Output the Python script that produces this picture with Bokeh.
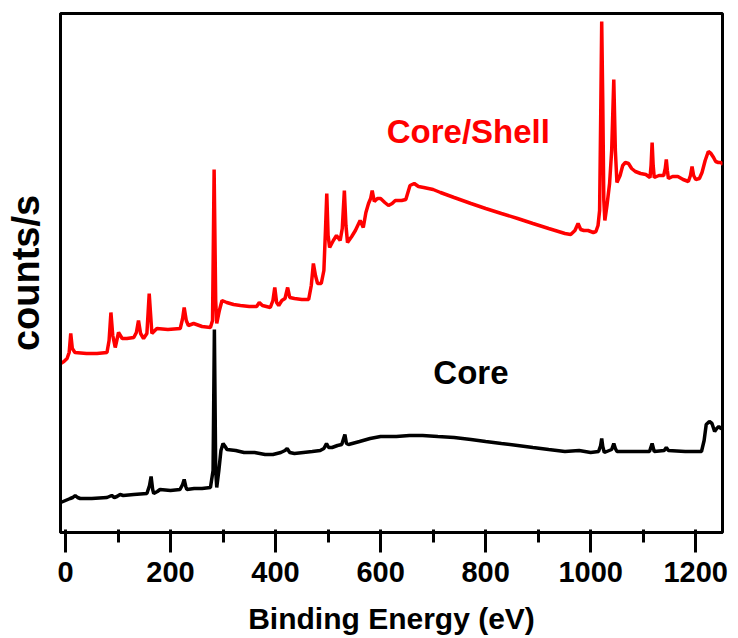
from bokeh.plotting import figure
from bokeh.models import Range1d, FixedTicker, Label
from bokeh.embed import file_html
from bokeh.resources import INLINE

# Binding energy (eV) and intensity (arbitrary counts/s)
shell_ev = [-9, -3, 3, 7, 10, 13, 18, 40, 60, 79, 83, 86.5, 90, 94.7, 101, 108, 117, 130, 135, 139,
            143, 148.6, 155, 159.4, 164.5, 174, 195, 218.5, 223, 226, 230, 234, 244, 260, 276, 280,
            283, 286, 288, 293, 298, 307, 320, 333, 350, 364, 369, 375, 390, 395, 398.5, 402, 406,
            412, 418, 423, 427, 436, 450, 463, 468, 472, 476, 480, 487, 492, 495, 497.5, 500, 503,
            510, 516, 523, 527, 531, 534, 537, 545, 552, 561, 567, 572, 577, 581, 584, 588, 594,
            600, 608, 615, 622, 628, 640, 648, 652, 656, 664, 672, 682, 700, 714, 740, 772, 800,
            830, 861, 890, 920, 951, 962, 970, 976, 981, 987, 995, 1005, 1010, 1014, 1017, 1019,
            1021, 1023, 1025, 1027, 1031, 1036, 1040, 1044, 1047, 1050, 1056, 1061, 1066, 1072,
            1078, 1085, 1095, 1105, 1113, 1115, 1117, 1119, 1121, 1130, 1139, 1142, 1144, 1146,
            1148, 1156, 1166, 1176, 1186, 1190, 1193, 1196, 1200, 1207, 1212, 1218, 1224, 1229,
            1234, 1238, 1243, 1248, 1252]
shell_cps = [169, 171, 174, 180, 199, 184, 180, 179, 179, 180, 192, 220, 197, 185, 200, 194, 194, 195,
             200, 212, 199, 194, 199, 239, 199, 204, 203, 204, 214, 225, 212, 207, 209, 206, 205, 212,
             363, 232, 209, 222, 232, 230, 228, 227, 226, 226, 230, 227, 225, 232, 245, 230, 227, 232,
             234, 245, 235, 234, 233, 233, 247, 269, 257, 249, 249, 262, 302, 339, 297, 285, 292, 297,
             292, 304, 342, 307, 290, 296, 302, 312, 305, 320, 329, 334, 342, 331, 334, 334, 330, 327,
             329, 332, 332, 333, 340, 347, 349, 346, 345, 343, 340, 335, 329, 324, 319, 314, 309, 304,
             299, 298, 302, 309, 303, 302, 302, 300, 301, 307, 322, 412, 511, 432, 332, 312, 327, 349,
             382, 453, 382, 350, 357, 367, 370, 369, 364, 361, 359, 358, 355, 367, 390, 367, 355, 357,
             357, 364, 373, 362, 354, 356, 356, 353, 351, 357, 366, 357, 353, 354, 360, 372, 381, 379,
             375, 371, 370, 370, 368]

core_ev = [-9, 0, 9, 14, 18.5, 23, 28, 50, 79, 88, 93, 98, 104, 110, 130, 155, 160, 163, 166, 168,
           175, 180, 200, 218, 223, 226, 229, 231, 245, 260, 276, 281, 283.5, 286, 288, 292, 296,
           300, 304, 307.5, 324, 340, 360, 380, 395, 410, 418, 422, 427, 436, 453, 470, 485, 492,
           497, 501, 507.6, 518, 526, 532, 535, 539, 560, 580, 600, 630, 655, 680, 709, 740, 772,
           800, 830, 861, 890, 920, 951, 978, 1000, 1015, 1019, 1021, 1023, 1026, 1040, 1044, 1047,
           1050, 1080, 1112, 1117, 1121, 1140, 1144, 1148, 1180, 1211, 1216, 1220, 1226, 1231, 1236,
           1240, 1244, 1248, 1252]
core_cps = [30, 32, 34, 35, 37, 35, 34, 34, 35, 37, 35, 36, 38, 37, 38, 39, 47, 56, 43, 39, 41, 43, 42,
            43, 48, 53, 46, 43, 44, 44, 45, 62, 203, 62, 45, 62, 82, 89, 86, 83, 82, 80, 80, 78, 78,
            80, 82, 84, 80, 79, 80, 81, 82, 84, 89, 85, 85, 87, 88, 98, 89, 88, 91, 94, 96, 96, 97,
            97, 96, 95, 93, 91, 89, 87, 85, 83, 81, 82, 80, 81, 87, 94, 86, 80, 83, 89, 84, 81, 81,
            81, 89, 81, 82, 85, 82, 81, 81, 92, 108, 111, 109, 101, 104, 106, 104, 104]

x_major_ticks = [0, 200, 400, 600, 800, 1000, 1200]
x_minor_ticks = [100, 300, 500, 700, 900, 1100]

FONT = "Liberation Sans"

p = figure(width=730, height=638, output_backend="svg", toolbar_location=None,
           x_range=Range1d(-9.5, 1251), y_range=Range1d(0, 519),
           min_border_left=60, min_border_right=8, min_border_top=13, min_border_bottom=106)

p.line(shell_ev, shell_cps, line_color="#ff0000", line_width=3.5)
p.line(core_ev, core_cps, line_color="#000000", line_width=3.5)

p.add_layout(Label(x=767, y=401, text="Core/Shell", text_color="#ff0000", text_font=FONT,
                   text_font_style="bold", text_font_size="33px", text_align="center",
                   text_baseline="alphabetic"))
p.add_layout(Label(x=772, y=160, text="Core", text_color="#000000", text_font=FONT,
                   text_font_style="bold", text_font_size="33px", text_align="center",
                   text_baseline="alphabetic"))

p.xgrid.visible = False
p.ygrid.visible = False
p.outline_line_color = "black"
p.outline_line_width = 3

xa = p.xaxis[0]
xa.ticker = FixedTicker(ticks=x_major_ticks, minor_ticks=x_minor_ticks)
xa.axis_line_width = 3
xa.major_tick_out = 20
xa.major_tick_in = 3
xa.minor_tick_out = 10
xa.minor_tick_in = 3
xa.major_tick_line_width = 3
xa.minor_tick_line_width = 3
xa.major_tick_line_color = "#000000"
xa.minor_tick_line_color = "#000000"
xa.major_label_text_font = FONT
xa.major_label_text_font_style = "bold"
xa.major_label_text_font_size = "29px"
xa.major_label_text_color = "#000000"
xa.major_label_standoff = 9
xa.axis_label = "Binding Energy (eV)"
xa.axis_label_text_font = FONT
xa.axis_label_text_font_style = "bold"
xa.axis_label_text_font_size = "30px"
xa.axis_label_text_color = "#000000"
xa.axis_label_standoff = 17

ya = p.yaxis[0]
ya.axis_line_width = 3
ya.major_tick_line_color = None
ya.minor_tick_line_color = None
ya.major_label_text_font_size = "1px"
ya.major_label_text_color = None
ya.axis_label = "counts/s"
ya.axis_label_text_font = FONT
ya.axis_label_text_font_style = "bold"
ya.axis_label_text_font_size = "38px"
ya.axis_label_text_color = "#000000"
ya.axis_label_standoff = 8

open("out.html", "w").write(file_html(p, INLINE))
